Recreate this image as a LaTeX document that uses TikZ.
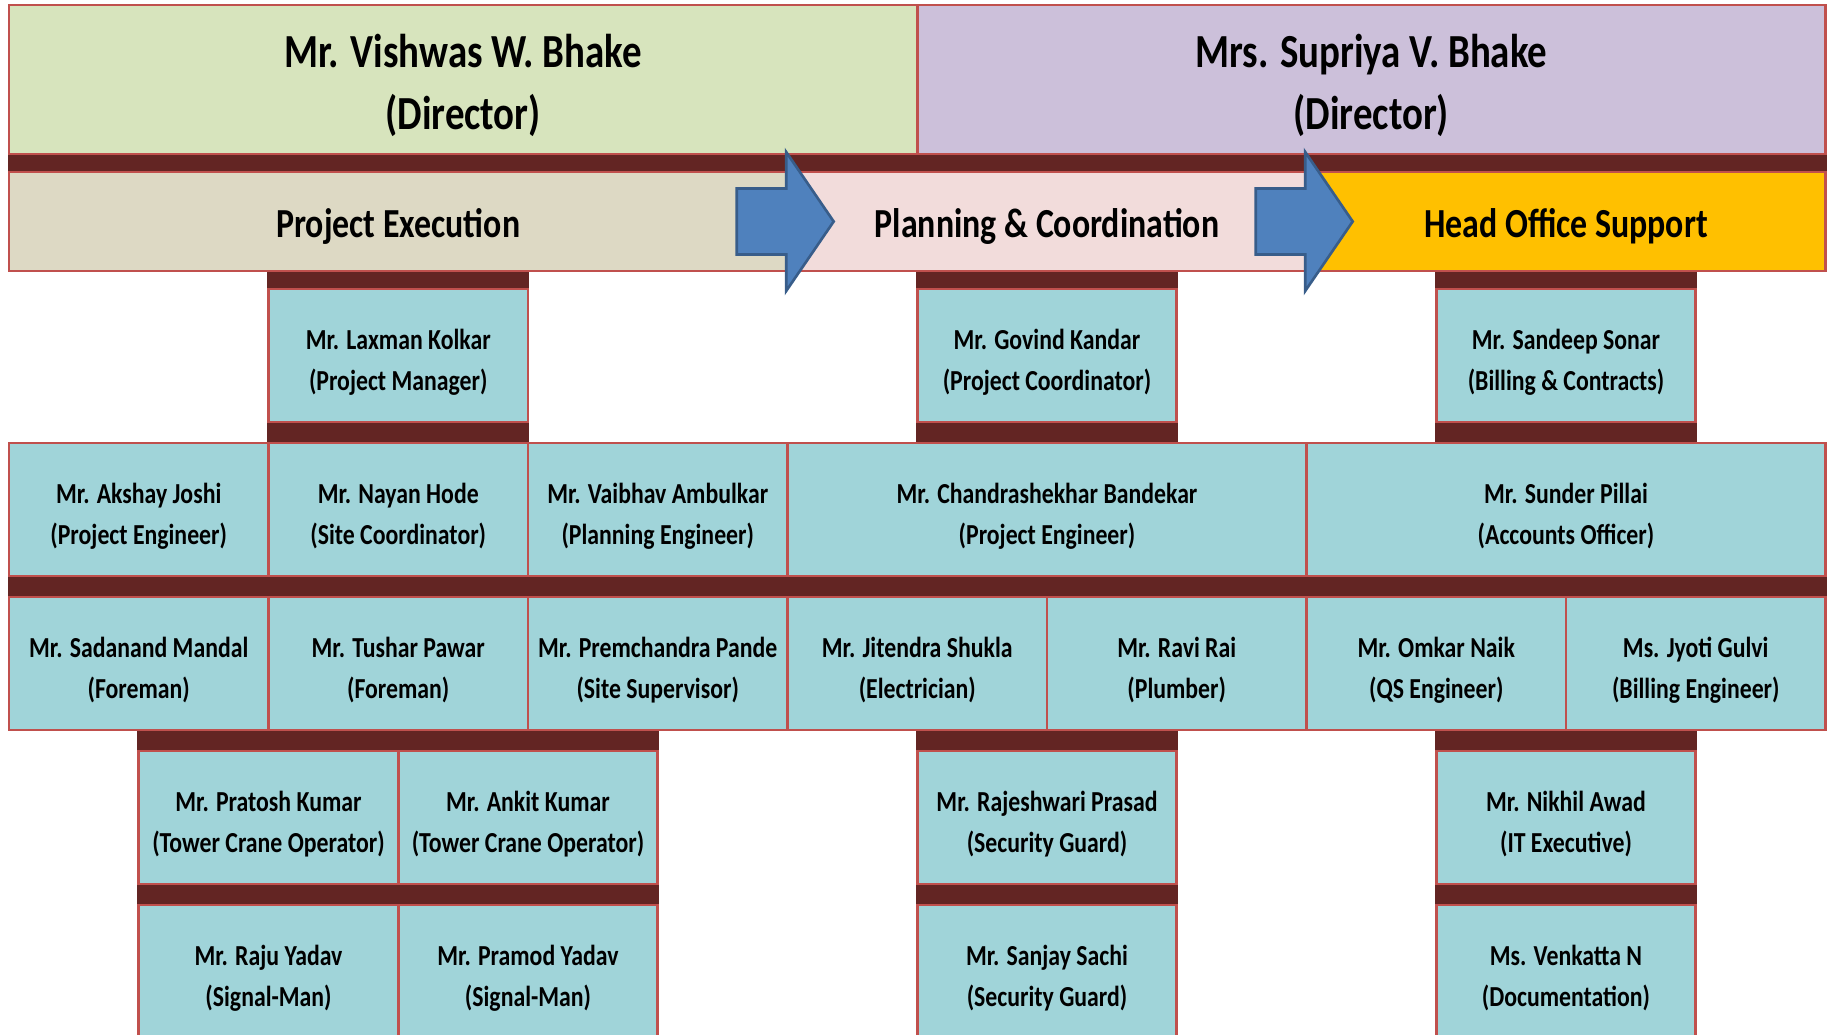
\documentclass[tikz,border=0pt]{standalone}
\usepackage{fontspec}
\usepackage{xcolor}
\newfontfamily\orgfont{Carlito}[FakeStretch=0.82]
\usetikzlibrary{calc,backgrounds}

\definecolor{dirgreen}{HTML}{D7E4BD}
\definecolor{dirpurple}{HTML}{CCC0DA}
\definecolor{exectan}{HTML}{DDD9C4}
\definecolor{planpink}{HTML}{F2DCDB}
\definecolor{officegold}{HTML}{FFC000}
\definecolor{staffblue}{HTML}{A0D4D9}
\definecolor{boxred}{HTML}{C0504D}
\definecolor{barbrown}{HTML}{632523}
\definecolor{arrowblue}{HTML}{4F81BD}
\definecolor{arrowline}{HTML}{385D8A}

% name and role, with a strut on the first line
\newcommand\who[3][19pt]{\rule{0pt}{#1}#2\\#3}

\begin{document}
\begin{tikzpicture}[x=0.2mm, y=-0.2mm,
    box/.style={rectangle, draw=boxred, line width=1.5pt, inner sep=0pt, align=center, text=black},
    director/.style={box, minimum width=3.5*\colw*0.2mm, minimum height=149*0.2mm, font=\orgfont\bfseries\fontsize{27}{35}\selectfont},
    dept/.style={box, minimum height=99*0.2mm, font=\orgfont\bfseries\fontsize{23.5}{28}\selectfont, execute at begin node={\rule{0pt}{22pt}}},
    staff/.style={box, fill=staffblue, minimum width=\colw*0.2mm, minimum height=\rowh*0.2mm, font=\orgfont\bfseries\fontsize{16.5}{23.5}\selectfont},
    staffwide/.style={staff, minimum width=2*\colw*0.2mm},
    bar/.style={fill=barbrown},
    blockarrow/.style={draw=arrowline, fill=arrowblue, line width=1.5pt, line join=miter}]
        \def\xo{9}
        \def\colw{259.5}
        \def\rowh{133}
        \def\ya{355.5}
        \def\yb{509.5}
        \def\yc{663.5}
        \def\yd{817.5}
        \def\ye{971.5}
        \useasboundingbox (0,0) rectangle (1829,1035);

        % directors and departments
        \node (vishwas) [director, fill=dirgreen] at ({\xo+1.75*\colw},79.5) {\who[25.5pt]{Mr. Vishwas W. Bhake}{(Director)}};
        \node (supriya) [director, fill=dirpurple] at ({\xo+5.25*\colw},79.5) {\who[25.5pt]{Mrs. Supriya V. Bhake}{(Director)}};
        \node (exec) [dept, fill=exectan, minimum width=3*\colw*0.2mm] at ({\xo+1.5*\colw},221.5) {Project Execution};
        \node (plan) [dept, fill=planpink, minimum width=2*\colw*0.2mm] at ({\xo+4*\colw},221.5) {Planning \& Coordination};
        \node (office) [dept, fill=officegold, minimum width=2*\colw*0.2mm] at ({\xo+6*\colw},221.5) {Head Office Support};

        % heads
        \node (laxman) [staff] at ({\xo+1.5*\colw},\ya) {\who{Mr. Laxman Kolkar}{(Project Manager)}};
        \node (govind) [staff] at ({\xo+4*\colw},\ya) {\who{Mr. Govind Kandar}{(Project Coordinator)}};
        \node (sandeep) [staff] at ({\xo+6*\colw},\ya) {\who{Mr. Sandeep Sonar}{(Billing \& Contracts)}};

        \node (akshay) [staff] at ({\xo+0.5*\colw},\yb) {\who{Mr. Akshay Joshi}{(Project Engineer)}};
        \node (nayan) [staff] at ({\xo+1.5*\colw},\yb) {\who{Mr. Nayan Hode}{(Site Coordinator)}};
        \node (vaibhav) [staff] at ({\xo+2.5*\colw},\yb) {\who{Mr. Vaibhav Ambulkar}{(Planning Engineer)}};
        \node (chandra) [staffwide] at ({\xo+4*\colw},\yb) {\who{Mr. Chandrashekhar Bandekar}{(Project Engineer)}};
        \node (sunder) [staffwide] at ({\xo+6*\colw},\yb) {\who{Mr. Sunder Pillai}{(Accounts Officer)}};

        \node (sadanand) [staff] at ({\xo+0.5*\colw},\yc) {\who{Mr. Sadanand Mandal}{(Foreman)}};
        \node (tushar) [staff] at ({\xo+1.5*\colw},\yc) {\who{Mr. Tushar Pawar}{(Foreman)}};
        \node (premchandra) [staff] at ({\xo+2.5*\colw},\yc) {\who{Mr. Premchandra Pande}{(Site Supervisor)}};
        \node (jitendra) [staff] at ({\xo+3.5*\colw},\yc) {\who{Mr. Jitendra Shukla}{(Electrician)}};
        \node (ravi) [staff] at ({\xo+4.5*\colw},\yc) {\who{Mr. Ravi Rai}{(Plumber)}};
        \node (omkar) [staff] at ({\xo+5.5*\colw},\yc) {\who{Mr. Omkar Naik}{(QS Engineer)}};
        \node (jyoti) [staff] at ({\xo+6.5*\colw},\yc) {\who{Ms. Jyoti Gulvi}{(Billing Engineer)}};

        \node (pratosh) [staff] at ({\xo+1*\colw},\yd) {\who{Mr. Pratosh Kumar}{(Tower Crane Operator)}};
        \node (ankit) [staff] at ({\xo+2*\colw},\yd) {\who{Mr. Ankit Kumar}{(Tower Crane Operator)}};
        \node (rajeshwari) [staff] at ({\xo+4*\colw},\yd) {\who{Mr. Rajeshwari Prasad}{(Security Guard)}};
        \node (nikhil) [staff] at ({\xo+6*\colw},\yd) {\who{Mr. Nikhil Awad}{(IT Executive)}};

        \node (raju) [staff] at ({\xo+1*\colw},\ye) {\who{Mr. Raju Yadav}{(Signal-Man)}};
        \node (pramod) [staff] at ({\xo+2*\colw},\ye) {\who{Mr. Pramod Yadav}{(Signal-Man)}};
        \node (sanjay) [staff] at ({\xo+4*\colw},\ye) {\who{Mr. Sanjay Sachi}{(Security Guard)}};
        \node (venkatta) [staff] at ({\xo+6*\colw},\ye) {\who{Ms. Venkatta N}{(Documentation)}};

        % dark bars behind the boxes
        \begin{pgfonlayer}{background}
            \fill[white] (0,0) rectangle (1829,1035);
            \fill[bar] (vishwas.south west) rectangle (office.north east);
            \foreach \n in {laxman, govind, sandeep} {
                \fill[bar] (\n.north west) rectangle (\n.north east |- exec.south);
                \fill[bar] (\n.south west) rectangle (\n.south east |- akshay.north);
            }
            \fill[bar] (akshay.south west) rectangle (jyoti.north east);
            \foreach \l/\r/\s in {pratosh/ankit/raju, rajeshwari/rajeshwari/sanjay, nikhil/nikhil/venkatta} {
                \fill[bar] (\l.north west) rectangle (\r.east |- sadanand.south);
                \fill[bar] (\l.south west) rectangle (\r.east |- \s.north);
            }
        \end{pgfonlayer}

        % block arrows between departments
        \foreach \b in {plan, office}
            \draw[blockarrow] ($(\b.west)+(-49.5,-33)$) -- ++(49.5,0) -- ++(0,-36.5) -- ($(\b.west)+(47.5,0)$)
                -- ($(\b.west)+(0,69.5)$) -- ++(0,-36.5) -- ++(-49.5,0) -- cycle;
\end{tikzpicture}
\end{document}
